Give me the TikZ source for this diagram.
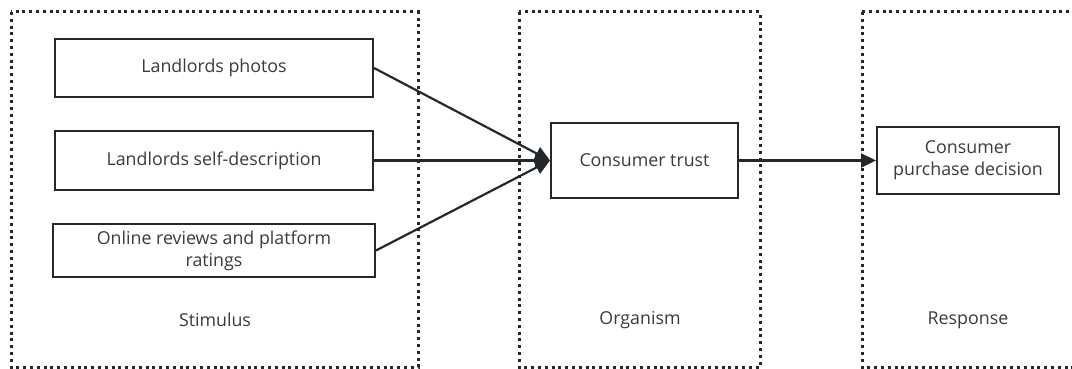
\documentclass[tikz,border=0pt]{standalone}
\usepackage{fontspec}
\setmainfont{Open Sans}
\usetikzlibrary{arrows.meta}
\definecolor{ln}{HTML}{23282C}
\definecolor{tx}{HTML}{3A3A3A}
\tikzset{
  zone/.style={draw=ln, line width=3pt, dash pattern=on 3pt off 3.8pt},
  item/.style={draw=ln, line width=2pt, rectangle, inner sep=0pt, text=tx, font=\fontsize{17.8}{22}\selectfont, align=center},
  zlabel/.style={text=tx, font=\fontsize{17.8}{22}\selectfont},
  link/.style={draw=ln, line width=2.2pt, -{Triangle[length=15pt,width=14pt]}}
}
\begin{document}
\begin{tikzpicture}[x=1pt,y=-1pt]
\useasboundingbox (0,0) rectangle (1072,369);
\clip (0,0) rectangle (1072,369);
\draw[zone] (11,12) rectangle (418,367);
\draw[zone] (519,12) rectangle (760,367);
\draw[zone] (862,12) rectangle (1090,367);
\node[zlabel] (ls) at (215,320) {Stimulus};
\node[zlabel] (lo) at (640,320) {Organism};
\node[zlabel] (lr) at (968,320) {Response};
\node[item, minimum width=318pt, minimum height=58pt] (a) at (214,68) {Landlords photos};
\node[item, minimum width=318pt, minimum height=59pt] (b) at (214,160.5) {Landlords self-description};
\node[item, minimum width=322pt, minimum height=53pt] (c) at (214,250.5) {Online reviews and platform\\ratings};
\node[item, minimum width=187pt, minimum height=75pt] (t) at (644.5,160.5) {Consumer trust};
\node[item, minimum width=182pt, minimum height=67pt] (d) at (968,160.5) {Consumer\\purchase decision};
\draw[link] (a.east) -- (t.west);
\draw[link] (b.east) -- (t.west);
\draw[link] (c.east) -- (t.west);
\draw[link] (t.east) -- (d.west);
\end{tikzpicture}
\end{document}
